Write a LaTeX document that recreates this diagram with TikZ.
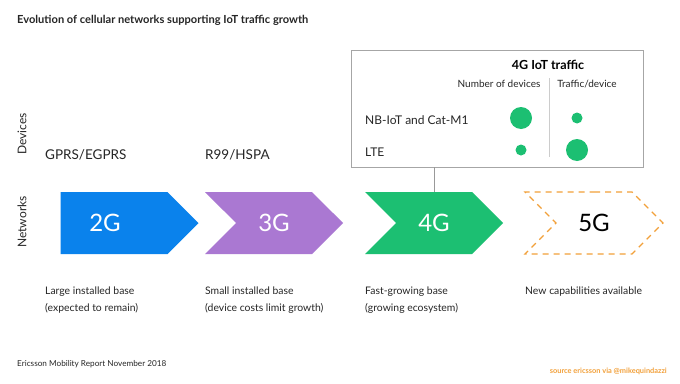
\documentclass[tikz,border=0pt]{standalone}
\usepackage{fontspec}
\setmainfont{Lato}
\usetikzlibrary{shapes.symbols}

\definecolor{netblue}{HTML}{0A82EC}
\definecolor{netpurple}{HTML}{AA78D2}
\definecolor{netgreen}{HTML}{1CBF72}
\definecolor{netorange}{HTML}{F2A03A}
\definecolor{txtgray}{HTML}{262626}

\begin{document}
\begin{tikzpicture}[
  x=1pt, y=-1pt,
  net/.style={shape=signal, signal to=east, signal pointer angle=90,
              minimum width=138pt, minimum height=62pt, inner sep=0pt,
              text=white, font=\fontsize{24}{24}\selectfont},
  lbl/.style={text=txtgray, inner sep=0pt, font=\fontsize{12}{12}\selectfont},
  desc/.style={text=txtgray, inner sep=0pt, align=left, anchor=west,
               font=\fontsize{10.4}{17}\selectfont},
  side/.style={text=txtgray, inner sep=0pt, rotate=90,
               font=\fontsize{12}{12}\selectfont},
  dot/.style={circle, fill=netgreen, inner sep=0pt},
  link/.style={draw=black!40, line width=0.8pt}
]
  \useasboundingbox[fill=white] (0,0) rectangle (680,383);

  % ========== TITLE ==========
  \node[anchor=west, inner sep=0pt, text=txtgray,
        font=\bfseries\fontsize{11.1}{11.1}\selectfont] (title) at (17,20)
    {Evolution of cellular networks supporting IoT traffic growth};

  % ========== SIDE LABELS ==========
  \node[side] (devices) at (22,134) {Devices};
  \node[side] (networks) at (22,222) {Networks};

  % ========== DEVICES ROW ==========
  \node[lbl, anchor=west, font=\fontsize{13.5}{13.5}\selectfont] (dev2)
    at (45,155) {GPRS/EGPRS};
  \node[lbl, anchor=west, font=\fontsize{13.5}{13.5}\selectfont] (dev3)
    at (205,155) {R99/HSPA};

  % ========== NETWORKS ROW ==========
  \node[net, fill=netblue, label={[text=white, font=\fontsize{24}{24}\selectfont,
        xshift=-9pt]center:2G}] (g2) at (114,223) {};
  \node[net, signal from=west, fill=netpurple] (g3) at (274,223) {3G};
  \node[net, signal from=west, fill=netgreen] (g4) at (434,223) {4G};
  \node[net, signal from=west, draw=netorange, line width=1.2pt,
        dash pattern=on 6pt off 5pt, text=black] (g5) at (594,223) {5G};

  % ========== 4G IoT TRAFFIC BOX ==========
  \node[draw=black!35, line width=0.8pt, minimum width=292pt,
        minimum height=117pt, inner sep=0pt] (iotbox) at (497,108.5) {};
  \node[inner sep=0pt, text=black, font=\bfseries\fontsize{12.5}{12.5}\selectfont]
    (iottitle) at (548,65) {4G IoT traffic};
  \node[lbl, font=\fontsize{10}{10}\selectfont] (numdev) at (499,84) {Number of devices};
  \node[lbl, font=\fontsize{10}{10}\selectfont] (trafdev) at (587,84) {Traffic/device};
  \draw[draw=black!20, line width=0.6pt] (549,78) -- (549,157);

  \node[lbl, anchor=west] (nbiot) at (365,120) {NB-IoT and Cat-M1};
  \node[lbl, anchor=west] (lte) at (365,152) {LTE};
  \node[dot, minimum size=22pt] (nbnum) at (521,118) {};
  \node[dot, minimum size=11pt] (nbtraf) at (577,118) {};
  \node[dot, minimum size=11pt] (ltenum) at (521,150) {};
  \node[dot, minimum size=22pt] (ltetraf) at (577,150) {};

  \draw[link] (iotbox.south -| g4.north) -- (g4.north);

  % ========== DESCRIPTIONS ==========
  \node[desc] (desc2) at (45,300.5) {Large installed base\\(expected to remain)};
  \node[desc] (desc3) at (205,300.5) {Small installed base\\(device costs limit growth)};
  \node[desc] (desc4) at (365,300.5) {Fast-growing base\\(growing ecosystem)};
  \node[desc] (desc5) at (525,292) {New capabilities available};

  % ========== FOOTER ==========
  \node[anchor=west, inner sep=0pt, text=txtgray,
        font=\fontsize{8.2}{8.2}\selectfont] (footer) at (17,364)
    {Ericsson Mobility Report November 2018};
  \node[anchor=east, inner sep=0pt, text=netorange,
        font=\bfseries\fontsize{7.4}{7.4}\selectfont] (source) at (667,371)
    {source ericsson via @mikequindazzi};
\end{tikzpicture}
\end{document}
